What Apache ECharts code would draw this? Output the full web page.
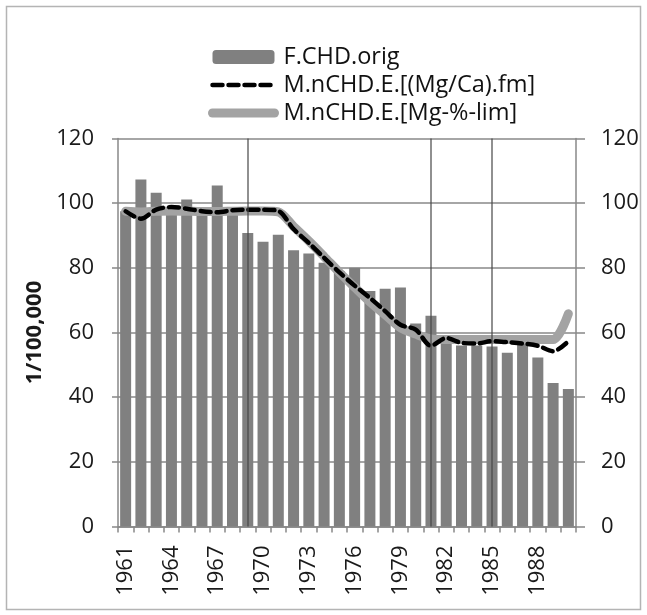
<!DOCTYPE html>
<html>
<head>
<meta charset="utf-8">
<script src="https://cdn.jsdelivr.net/npm/echarts@6/dist/echarts.min.js"></script>
<style>
html,body{margin:0;padding:0;background:#fff;}
#chart{width:647px;height:615px;}
</style>
</head>
<body>
<div id="chart"></div>
<script>
var years = ['1961','1962','1963','1964','1965','1966','1967','1968','1969','1970',
             '1971','1972','1973','1974','1975','1976','1977','1978','1979','1980',
             '1981','1982','1983','1984','1985','1986','1987','1988','1989','1990'];
var fchdOrig = [97.5,107.3,103.2,98.5,101.1,96.7,105.5,97,90.8,88.1,
                90.2,85.4,84.4,81.6,79,80,72.8,73.5,73.9,62.8,
                65.2,57.5,56,56,55.7,53.7,58,52.3,44.4,42.5];
var mgCaFm = [97.5,95.2,98,98.8,98.3,97.5,97.2,97.8,98,98,
              97.6,92,87.7,83.1,78.6,74.5,70.7,66.6,62.4,60.9,
              55.9,58.3,56.8,56.6,57.3,57,56.6,55.9,54.2,57.3];
var mgPctLim = [97.5,97.3,97.5,97.6,97.5,97.4,97.4,97.5,97.6,97.6,
                97.3,92.8,88.3,83.5,78.6,74,69.5,65.5,61.5,59.5,
                58,57.8,57.8,57.8,57.8,57.8,57.8,57.8,57.8,65.8];
var gridYears = ['1969','1981','1985'];
var yTicks = {min: 0, max: 120, interval: 20};
var seriesNames = ['F.CHD.orig', 'M.nCHD.E.[(Mg/Ca).fm]', 'M.nCHD.E.[Mg-%-lim]'];

var FONT = '"Open Sans", "Noto Sans", sans-serif';
var axisColor = '#888888';
var chart = echarts.init(document.getElementById('chart'), null, {renderer: 'canvas'});
chart.setOption({
  animation: false,
  backgroundColor: '#ffffff',
  textStyle: {fontFamily: FONT},
  graphic: [{
    type: 'rect', silent: true,
    shape: {x: 6.5, y: 6.5, width: 634, height: 603},
    style: {fill: 'none', stroke: '#b4b4b4', lineWidth: 1.5}
  }],
  legend: {
    orient: 'vertical',
    left: 203, top: 40,
    itemWidth: 62, itemHeight: 14, itemGap: 4,
    lineStyle: {width: 'inherit', type: 'inherit', cap: 'inherit'},
    data: [
      {name: seriesNames[0]},
      {name: seriesNames[1], itemStyle: {opacity: 0}},
      {name: seriesNames[2], itemStyle: {opacity: 0}}
    ],
    textStyle: {fontFamily: FONT, fontSize: 23.5, color: '#111', lineHeight: 23, padding: [0,0,0,4]}
  },
  grid: {left: 118, right: 71, top: 138.5, bottom: 88.5, containLabel: false},
  xAxis: {
    type: 'category',
    data: years,
    boundaryGap: true,
    axisLine: {show: true, lineStyle: {color: axisColor, width: 1.5}},
    axisTick: {show: true, interval: 0, inside: false, length: 6, lineStyle: {color: axisColor, width: 1.5}},
    axisLabel: {interval: 2, rotate: 90, margin: 19, fontFamily: FONT, fontSize: 22, color: '#1a1a1a'},
    splitLine: {show: false}
  },
  yAxis: [{
    type: 'value',
    min: yTicks.min, max: yTicks.max, interval: yTicks.interval,
    name: '1/100,000',
    nameLocation: 'middle',
    nameGap: 70,
    nameRotate: 90,
    nameTextStyle: {fontFamily: FONT, fontSize: 22, fontWeight: 'bold', color: '#1a1a1a'},
    axisLine: {show: true, lineStyle: {color: axisColor, width: 1.5}},
    axisTick: {show: true, length: 6, lineStyle: {color: axisColor, width: 1.5}},
    axisLabel: {margin: 24, fontFamily: FONT, fontSize: 22, color: '#1a1a1a'},
    splitLine: {show: true, lineStyle: {color: axisColor, width: 1.5}}
  }, {
    type: 'value',
    position: 'right',
    min: yTicks.min, max: yTicks.max, interval: yTicks.interval,
    axisLine: {show: true, lineStyle: {color: axisColor, width: 1.5}},
    axisTick: {show: true, length: 9, lineStyle: {color: axisColor, width: 1.5}},
    axisLabel: {margin: 25, fontFamily: FONT, fontSize: 22, color: '#1a1a1a'},
    splitLine: {show: false}
  }],
  series: [{
    name: seriesNames[0],
    type: 'bar',
    data: fchdOrig,
    barCategoryGap: '28%',
    itemStyle: {color: '#808080'},
    markLine: {
      silent: true,
      symbol: ['none', 'none'],
      label: {show: false},
      lineStyle: {color: 'rgba(70,70,70,0.6)', width: 2, type: 'solid'},
      data: gridYears.map(function (y) { return {xAxis: y}; })
    }
  }, {
    name: seriesNames[2],
    type: 'line',
    data: mgPctLim,
    smooth: 0.3,
    symbol: 'none',
    lineStyle: {color: '#a3a3a3', width: 9, cap: 'round', join: 'round'},
    itemStyle: {color: '#a3a3a3'},
    z: 3
  }, {
    name: seriesNames[1],
    type: 'line',
    data: mgCaFm,
    smooth: 0.3,
    symbol: 'none',
    lineStyle: {color: '#000000', width: 4.5, type: [10, 6], cap: 'round', join: 'round'},
    itemStyle: {color: '#000000'},
    z: 4
  }]
});
</script>
</body>
</html>
